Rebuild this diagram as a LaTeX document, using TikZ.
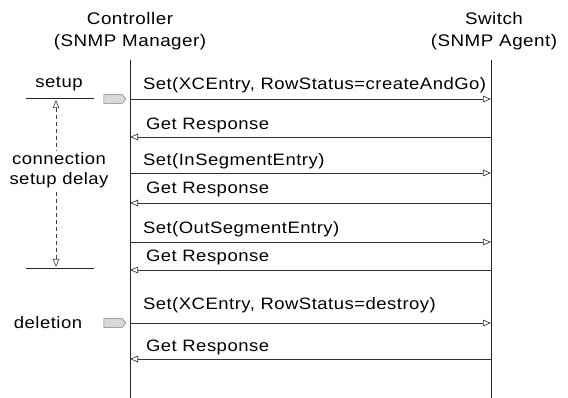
\documentclass[tikz,border=0pt]{standalone}
\usepackage{fontspec}
\usetikzlibrary{arrows.meta,shapes.symbols}
\newfontfamily\lbl{Liberation Sans}[FakeStretch=1.12,LetterSpace=3]
\begin{document}
\begin{tikzpicture}[x=1pt,y=-1pt,
  every node/.style={inner sep=0pt,outer sep=0pt,font=\lbl\fontsize{16.5}{20}\selectfont,text=black},
  head/.style={align=center,font=\lbl\fontsize{16.8}{21.5}\selectfont},
  msglabel/.style={anchor=base west},
  lifeline/.style={line width=0.8pt,black!85},
  msg/.style={line width=0.65pt,black!80,-{Triangle[open,length=8pt,width=6.5pt]}},
  mark line/.style={line width=0.8pt,black!85},
  delay/.style={line width=0.6pt,black!75,dash pattern=on 4pt off 3pt,
    {Triangle[open,length=8pt,width=6.5pt]}-{Triangle[open,length=8pt,width=6.5pt]}},
  marker/.style={shape=signal,signal to=east,signal pointer angle=100,
    minimum width=22pt,minimum height=9pt,draw=black!50,fill=black!15,line width=0.5pt}]
\useasboundingbox (0,0) rectangle (568,398);

% column headings
\node[head] (mgr) at (130,31) {Controller\\(SNMP Manager)};
\node[head] (agt) at (494,31) {Switch\\(SNMP Agent)};

% lifelines
\coordinate (Mtop) at (130,60); \coordinate (Mbot) at (130,398);
\coordinate (Atop) at (491,60); \coordinate (Abot) at (491,398);
\draw[lifeline] (Mtop) -- (Mbot);
\draw[lifeline] (Atop) -- (Abot);

% message end points on the two lifelines
\foreach \i/\y in {1/99,2/137,3/173,4/203,5/242,6/270,7/323,8/359}{
  \coordinate (M\i) at (130,\y);
  \coordinate (A\i) at (491,\y);
}

% messages
\draw[msg] (M1) -- (A1);
\draw[msg] (A2) -- (M2);
\draw[msg] (M3) -- (A3);
\draw[msg] (A4) -- (M4);
\draw[msg] (M5) -- (A5);
\draw[msg] (A6) -- (M6);
\draw[msg] (M7) -- (A7);
\draw[msg] (A8) -- (M8);

% message labels
\node[msglabel] (t1) at (143,90) {Set(XCEntry, RowStatus=createAndGo)};
\node[msglabel] (t2) at (146,130) {Get Response};
\node[msglabel] (t3) at (143,166) {Set(InSegmentEntry)};
\node[msglabel] (t4) at (146,194) {Get Response};
\node[msglabel] (t5) at (143,234) {Set(OutSegmentEntry)};
\node[msglabel] (t6) at (146,262) {Get Response};
\node[msglabel] (t7) at (143,309) {Set(XCEntry, RowStatus=destroy)};
\node[msglabel] (t8) at (146,352) {Get Response};

% setup interval on the left
\node[anchor=base] (setup) at (59,88) {setup};
\coordinate (s0) at (26,98); \coordinate (s1) at (94,98);
\coordinate (e0) at (26,268); \coordinate (e1) at (94,268);
\draw[mark line] (s0) -- (s1);
\draw[mark line] (e0) -- (e1);
\coordinate (d0) at (56,100); \coordinate (d1) at (56,267);
\draw[delay] (d0) -- (d1);
\node[align=center,fill=white,inner sep=1pt] (delaytxt) at (59,170) {connection\\setup delay};

% markers for the two operations
\node[marker] (g1) at (113,99) {};
\node[anchor=base] (del) at (48,328) {deletion};
\node[marker] (g2) at (113,323) {};
\end{tikzpicture}
\end{document}
